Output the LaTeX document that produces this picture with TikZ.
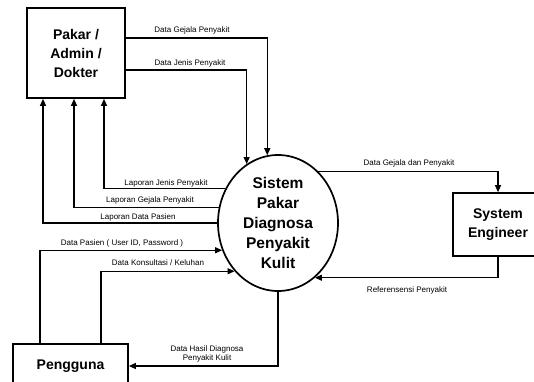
\documentclass[tikz,border=0pt]{standalone}
\usepackage{fontspec}
\setmainfont{Liberation Sans}
\usetikzlibrary{arrows.meta,shapes.geometric}
\begin{document}
\begin{tikzpicture}[x=1pt,y=-1pt,
entity/.style={draw, line width=1.7pt, align=center, inner sep=0pt, font=\fontsize{14}{19}\selectfont\bfseries},
proc/.style={ellipse, draw, line width=1.7pt, align=center, inner sep=0pt, minimum width=120pt, minimum height=136pt, font=\fontsize{15.5}{20}\selectfont\bfseries},
flow/.style={line width=1.2pt, -{Triangle[length=7pt,width=6pt]}},
lbl/.style={inner sep=0pt, font=\fontsize{8}{9}\selectfont}]
\useasboundingbox (0,0) rectangle (534,381);
\node[entity, minimum width=98pt, minimum height=90pt] (pakar) at (76,53){Pakar /\\Admin /\\Dokter};
\node[proc] (sistem) at (278,223){Sistem\\Pakar\\Diagnosa\\Penyakit\\Kulit};
\node[entity, minimum width=90pt, minimum height=63pt] (engineer) at (498,224.5){System\\Engineer};
\node[entity, minimum width=115pt, minimum height=44pt] (pengguna) at (70.5,366){Pengguna};
\draw[flow] ([yshift=15pt]pakar.east) -| (sistem.99);
\draw[flow] ([yshift=-17pt]pakar.east) -| (sistem.118);
\draw[flow] (sistem.147) -| ([xshift=28pt]pakar.south);
\draw[flow] (sistem.165) -| ([xshift=-2pt]pakar.south);
\draw[flow] (sistem.west) -| ([xshift=-33pt]pakar.south);
\draw[flow] ([xshift=-30.5pt]pengguna.north) |- (sistem.206);
\draw[flow] ([xshift=30.5pt]pengguna.north) |- (sistem.228);
\draw[flow] (sistem.south) |- (pengguna.east);
\draw[flow] (sistem.52) -| (engineer.north);
\draw[flow] (engineer.south) |- (sistem.304);
\node[lbl] (l1) at (192,30){Data Gejala Penyakit};
\node[lbl] (l2) at (190,63){Data Jenis Penyakit};
\node[lbl] (l3) at (166,183){Laporan Jenis Penyakit};
\node[lbl] (l4) at (150,200){Laporan Gejala Penyakit};
\node[lbl] (l5) at (138,217){Laporan Data Pasien};
\node[lbl] (l6) at (122,243){Data Pasien ( User ID, Password )};
\node[lbl] (l7) at (158,263){Data Konsultasi / Keluhan};
\node[lbl, align=center] (l8) at (207,353.5){Data Hasil Diagnosa\\Penyakit Kulit};
\node[lbl] (l9) at (409,163){Data Gejala dan Penyakit};
\node[lbl] (l10) at (407,290){Referensensi Penyakit};
\end{tikzpicture}
\end{document}
